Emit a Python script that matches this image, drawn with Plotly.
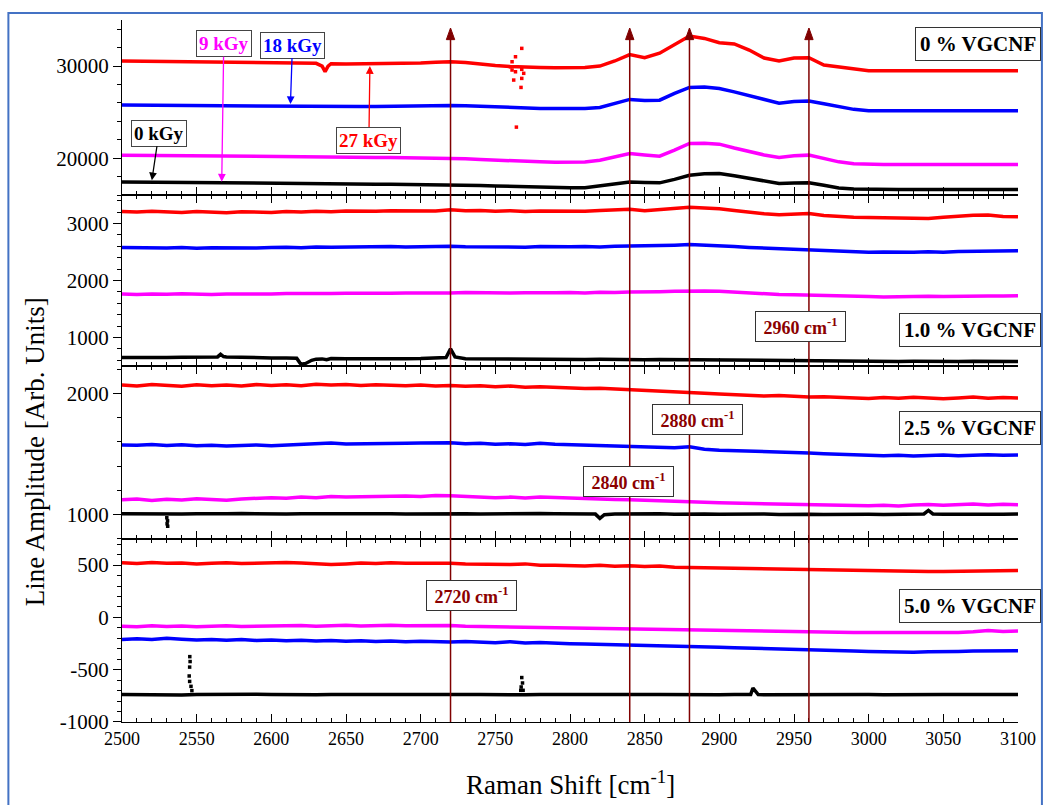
import plotly.graph_objects as go

# ---------------- data ----------------
raman_shift = list(range(2500, 3101, 10))
doses = ["0 kGy", "9 kGy", "18 kGy", "27 kGy"]
dose_colors = ["#000000", "#FF00FF", "#0000FF", "#FF0000"]
peak_positions = [2720, 2840, 2880, 2960]
panel_names = ["0 % VGCNF", "1.0 % VGCNF", "2.5 % VGCNF", "5.0 % VGCNF"]

# y tick labels per panel (top to bottom)
y_tick_vals = [[20000, 30000], [1000, 2000, 3000], [1000, 2000], [-1000, -500, 0, 500]]
y_tick_text = [["20000", "30000"], ["1000", "2000", "3000"], ["1000", "2000"], ["-1000", "-500", "0", "500"]]
x_tick_vals = [2500, 2550, 2600, 2650, 2700, 2750, 2800, 2850, 2900, 2950, 3000, 3050, 3100]

# Panel 1: 0 % VGCNF
p1_black = [17420, 17400, 17380, 17360, 17340, 17320, 17300, 17290, 17270, 17260,
            17250, 17240, 17230, 17220, 17210, 17200, 17190, 17180, 17170, 17160,
            17150, 17140, 17140, 17100, 17040, 16980, 16930, 16900, 16880, 16830,
            16780, 16800, 16990, 17200, 17420, 17360, 17320, 17700, 18150, 18300,
            18340, 18100, 17790, 17500, 17250, 17300, 17320, 17050, 16770, 16650,
            16600, 16600, 16590, 16600, 16600, 16590, 16620, 16600, 16590, 16600,
            16600]
p1_magenta = [20330, 20310, 20290, 20270, 20250, 20230, 20210, 20190, 20170, 20150,
              20140, 20130, 20120, 20110, 20100, 20090, 20080, 20080, 20080, 20060,
              20050, 20040, 20030, 19950, 19860, 19780, 19700, 19640, 19600, 19560,
              19530, 19580, 19780, 20150, 20510, 20350, 20220, 20870, 21600, 21620,
              21520, 21100, 20690, 20350, 20070, 20250, 20330, 19950, 19600, 19400,
              19310, 19300, 19300, 19310, 19300, 19300, 19310, 19300, 19300, 19310,
              19300]
p1_blue = [25760, 25750, 25740, 25730, 25720, 25700, 25680, 25660, 25640, 25610,
           25580, 25570, 25560, 25560, 25570, 25580, 25600, 25620, 25650, 25680,
           25710, 25730, 25730, 25690, 25620, 25550, 25480, 25430, 25400, 25390,
           25390, 25400, 25500, 25900, 26380, 26250, 26300, 27030, 27680, 27720,
           27570, 27200, 26770, 26350, 25970, 26150, 26200, 25900, 25580, 25300,
           25140, 25130, 25140, 25140, 25130, 25140, 25140, 25130, 25140, 25140,
           25140]
p1_red = [30540, 30520, 30500, 30490, 30470, 30450, 30430, 30410, 30400, 30380,
          30360, 30340, 30320, 30300, 30260, 30220, 30230, 30260, 30300, 30320,
          30330, 30400, 30470, 30380, 30200, 30050, 29950, 29850, 29840, 29820,
          29820, 29850, 30000, 30550, 31250, 30900, 31400, 32300, 33260, 33000,
          32530, 32400, 31740, 30870, 30540, 30870, 30900, 30110, 29930, 29670,
          29490, 29490, 29500, 29490, 29490, 29500, 29490, 29490, 29500, 29490,
          29490]
p1_red_dip_x = [2634, 2636, 2638]
p1_red_dip_y = [30000, 29400, 30000]
p1_red_dots_x = [2767.7, 2763.5, 2761.2, 2760.1, 2761.2, 2763.5, 2762.3, 2767.7, 2769.0, 2767.7, 2767.2, 2764.1]
p1_red_dots_y = [31920, 31010, 30470, 29920, 29570, 29380, 28480, 29640, 29210, 28660, 27680, 23370]

# Panel 2: 1.0 % VGCNF
p2_black = [648, 645, 650, 648, 652, 650, 652, 660, 650, 645,
            642, 640, 530, 620, 630, 628, 625, 630, 625, 628,
            630, 635, 800, 628, 625, 622, 625, 620, 622, 618,
            620, 615, 618, 612, 615, 610, 615, 612, 620, 615,
            612, 610, 605, 600, 598, 600, 598, 590, 588, 585,
            582, 585, 580, 583, 578, 582, 580, 585, 580, 582,
            580]
p2_black_feat_x = [2564, 2566, 2568, 2617, 2619, 2623, 2627, 2634, 2637, 2717, 2723]
p2_black_feat_y = [660, 705, 665, 635, 560, 545, 600, 625, 610, 650, 660]
p2_magenta = [1762, 1755, 1765, 1758, 1768, 1760, 1755, 1765, 1760, 1770,
              1765, 1772, 1768, 1775, 1770, 1778, 1772, 1780, 1775, 1782,
              1778, 1785, 1780, 1790, 1782, 1788, 1780, 1785, 1792, 1785,
              1790, 1782, 1795, 1788, 1800, 1795, 1805, 1812, 1820, 1815,
              1810, 1795, 1780, 1765, 1755, 1752, 1748, 1740, 1735, 1728,
              1718, 1712, 1720, 1715, 1722, 1718, 1725, 1720, 1730, 1728,
              1732]
p2_blue = [2580, 2575, 2585, 2570, 2578, 2565, 2575, 2570, 2580, 2572,
           2578, 2585, 2575, 2590, 2582, 2588, 2592, 2585, 2595, 2588,
           2595, 2590, 2600, 2592, 2588, 2580, 2590, 2585, 2595, 2588,
           2592, 2598, 2590, 2600, 2605, 2598, 2610, 2620, 2630, 2622,
           2610, 2595, 2580, 2570, 2560, 2548, 2535, 2520, 2515, 2505,
           2495, 2500, 2492, 2498, 2505, 2495, 2510, 2515, 2520, 2518,
           2522]
p2_red = [3210, 3200, 3215, 3205, 3195, 3210, 3200, 3190, 3205, 3200,
          3195, 3210, 3200, 3215, 3205, 3220, 3210, 3215, 3225, 3220,
          3230, 3220, 3240, 3225, 3230, 3215, 3225, 3210, 3220, 3215,
          3225, 3215, 3230, 3240, 3250, 3225, 3240, 3260, 3285, 3270,
          3260, 3230, 3195, 3170, 3155, 3165, 3175, 3140, 3120, 3110,
          3105, 3100, 3095, 3100, 3090, 3110, 3135, 3145, 3150, 3125,
          3120]

# Panel 3: 2.5 % VGCNF
p3_black = [1008, 1006, 1010, 1008, 1005, 1008, 1006, 1008, 1010, 1007,
            1008, 1005, 1008, 1010, 1006, 1008, 1007, 1010, 1008, 1006,
            1008, 1010, 1007, 1008, 1005, 1008, 1006, 1008, 1010, 1007,
            1005, 1008, 970, 1006, 1008, 1005, 1007, 1004, 1008, 1006,
            1004, 1006, 1003, 1005, 1002, 1006, 1004, 1002, 1005, 1003,
            1004, 1002, 1005, 1003, 1035, 1004, 1002, 1005, 1003, 1004,
            1005]
p3_black_feat_x = [2817, 2823, 3037, 3043]
p3_black_feat_y = [1005, 1000, 1006, 1006]
p3_black_dots_x = [2530.0, 2530.5, 2530.2, 2530.6]
p3_black_dots_y = [975, 950, 925, 905]
p3_magenta = [1123, 1130, 1118, 1128, 1122, 1132, 1125, 1120, 1130, 1135,
              1140, 1135, 1145, 1140, 1150, 1145, 1148, 1152, 1150, 1155,
              1150, 1158, 1156, 1150, 1145, 1140, 1145, 1138, 1145, 1140,
              1135, 1130, 1128, 1125, 1123, 1118, 1112, 1108, 1100, 1102,
              1098, 1095, 1092, 1088, 1085, 1082, 1080, 1078, 1075, 1072,
              1074, 1078, 1072, 1080, 1085, 1078, 1082, 1088, 1080, 1086,
              1082]
p3_blue = [1575, 1572, 1578, 1570, 1576, 1568, 1572, 1566, 1570, 1574,
           1568, 1575, 1580, 1585, 1590, 1582, 1585, 1588, 1592, 1588,
           1590, 1594, 1592, 1585, 1588, 1580, 1584, 1578, 1588, 1580,
           1576, 1570, 1572, 1566, 1560, 1558, 1555, 1552, 1560, 1540,
           1532, 1528, 1530, 1522, 1518, 1512, 1508, 1502, 1498, 1492,
           1488, 1485, 1490, 1484, 1488, 1492, 1486, 1490, 1494, 1490,
           1492]
p3_red = [2068, 2060, 2072, 2065, 2058, 2070, 2062, 2068, 2060, 2072,
          2065, 2070, 2062, 2075, 2068, 2072, 2065, 2070, 2068, 2062,
          2068, 2060, 2065, 2058, 2062, 2055, 2060, 2050, 2055, 2048,
          2045, 2040, 2042, 2035, 2030, 2022, 2018, 2010, 2005, 2000,
          1995, 1988, 1985, 1978, 1982, 1975, 1970, 1972, 1968, 1962,
          1958, 1965, 1960, 1968, 1962, 1955, 1962, 1970, 1960, 1965,
          1962]

# Panel 4: 5.0 % VGCNF
p4_black = [-738, -740, -736, -738, -742, -738, -736, -740, -738, -735,
            -738, -740, -737, -739, -736, -738, -740, -737, -738, -736,
            -738, -740, -737, -738, -736, -739, -738, -740, -737, -738,
            -736, -739, -738, -737, -740, -738, -736, -739, -738, -737,
            -740, -738, -736, -739, -738, -740, -737, -739, -738, -736,
            -738, -740, -737, -738, -739, -736, -738, -740, -737, -738,
            -738]
p4_black_feat_x = [2921, 2922.5, 2924, 2926]
p4_black_feat_y = [-738, -675, -700, -738]
p4_black_dots_x = [2545.4, 2545.6, 2545.3, 2545.0, 2545.3, 2546.2, 2546.8, 2767.7, 2768.2, 2767.3, 2767.0, 2768.6]
p4_black_dots_y = [-375, -422, -475, -560, -612, -659, -700, -575, -627, -665, -697, -697]
p4_magenta = [-84, -88, -80, -86, -82, -90, -85, -80, -86, -82,
              -85, -80, -78, -84, -80, -76, -82, -78, -75, -80,
              -78, -82, -78, -84, -86, -88, -92, -95, -98, -100,
              -103, -106, -105, -108, -110, -108, -112, -115, -118, -120,
              -122, -125, -128, -130, -132, -135, -138, -140, -142, -145,
              -145, -148, -150, -152, -148, -150, -145, -138, -125, -135,
              -130]
p4_blue = [-210, -205, -212, -200, -208, -215, -210, -218, -212, -220,
           -215, -222, -218, -225, -220, -228, -222, -230, -225, -232,
           -228, -235, -236, -230, -238, -242, -232, -245, -240, -248,
           -252, -255, -258, -260, -265, -262, -268, -272, -275, -280,
           -285, -290, -295, -300, -305, -310, -312, -315, -318, -322,
           -325, -328, -330, -332, -328, -330, -325, -322, -320, -322,
           -318]
p4_red = [522, 515, 525, 518, 520, 512, 518, 522, 515, 520,
          518, 525, 520, 515, 505, 512, 520, 515, 522, 518,
          520, 515, 518, 512, 510, 508, 505, 512, 500, 498,
          495, 492, 498, 490, 495, 488, 492, 480, 478, 475,
          472, 470, 468, 465, 462, 458, 455, 452, 450, 445,
          442, 440, 436, 435, 438, 440, 442, 445, 448, 445,
          448]


def merged(xs, ys, fx=(), fy=()):
    pairs = sorted(zip(list(xs) + list(fx), list(ys) + list(fy)))
    return [p[0] for p in pairs], [p[1] for p in pairs]


# (values, line-features x, line-features y) in draw order black, magenta, blue, red
panels = [
    [(p1_black, (), ()), (p1_magenta, (), ()), (p1_blue, (), ()), (p1_red, p1_red_dip_x, p1_red_dip_y)],
    [(p2_black, p2_black_feat_x, p2_black_feat_y), (p2_magenta, (), ()), (p2_blue, (), ()), (p2_red, (), ())],
    [(p3_black, p3_black_feat_x, p3_black_feat_y), (p3_magenta, (), ()), (p3_blue, (), ()), (p3_red, (), ())],
    [(p4_black, p4_black_feat_x, p4_black_feat_y), (p4_magenta, (), ()), (p4_blue, (), ()), (p4_red, (), ())],
]
order_colors = ["#000000", "#FF00FF", "#0000FF", "#FF0000"]
dot_sets = [("", p1_red_dots_x, p1_red_dots_y, "#FF0000"),
            ("3", p3_black_dots_x, p3_black_dots_y, "#000000"),
            ("4", p4_black_dots_x, p4_black_dots_y, "#000000")]

fig = go.Figure()
for k, panel in enumerate(panels):
    s = "" if k == 0 else str(k + 1)
    for (vals, fx, fy), col in zip(panel, order_colors):
        xx, yy = merged(raman_shift, vals, fx, fy)
        fig.add_trace(go.Scatter(x=xx, y=yy, mode="lines",
                                 line=dict(color=col, width=3.5),
                                 xaxis="x" + s, yaxis="y" + s,
                                 showlegend=False, hoverinfo="skip"))
for s, dx, dy, col in dot_sets:
    fig.add_trace(go.Scatter(x=dx, y=dy, mode="markers",
                             marker=dict(color=col, size=3.5, symbol="square"),
                             xaxis="x" + s, yaxis="y" + s, showlegend=False, hoverinfo="skip"))

FONT = "Liberation Serif"
domains = [[0.7507, 1.0], [0.5071, 0.7507], [0.2607, 0.5071], [0.0, 0.2607]]
yranges = [[16000, 35000], [500, 3500], [800, 2225], [-1000, 750]]
yminor = [2000, 200, 200, 100]

layout = dict(
    width=1048, height=805,
    margin=dict(l=122, r=27, t=20, b=83),
    paper_bgcolor="white", plot_bgcolor="white",
    font=dict(family=FONT, color="black"),
    showlegend=False,
)
for k in range(4):
    s = "" if k == 0 else str(k + 1)
    layout["xaxis" + s] = dict(
        range=[2500, 3100], anchor="y" + s, domain=[0, 1],
        showline=True, linecolor="black", linewidth=1.3,
        ticks="inside", ticklen=8, tickwidth=1.2, tickcolor="black",
        tickmode="array", tickvals=x_tick_vals, ticktext=[str(v) for v in x_tick_vals],
        minor=dict(dtick=10, tick0=2500, ticks="inside", ticklen=4, tickcolor="black", tickwidth=1),
        mirror=False if k == 0 else "ticks",
        showgrid=False, zeroline=False,
        showticklabels=(k == 3),
        tickfont=dict(family=FONT, size=18, color="black"),
    )
    layout["yaxis" + s] = dict(
        range=yranges[k], domain=domains[k], anchor="x" + s,
        showline=True, linecolor="black", linewidth=1.3,
        ticks="outside", ticklen=8, tickwidth=1.2, tickcolor="black",
        tickmode="array", tickvals=y_tick_vals[k], ticktext=y_tick_text[k],
        minor=dict(dtick=yminor[k], tick0=0, ticks="outside", ticklen=4, tickcolor="black", tickwidth=1),
        showgrid=False, zeroline=False,
        tickfont=dict(family=FONT, size=21, color="black"),
    )
fig.update_layout(**layout)

# vertical peak lines with arrowheads (shapes)
shapes = []
for px in peak_positions:
    shapes.append(dict(type="line", xref="x4", yref="paper", x0=px, x1=px, y0=0, y1=0.978,
                       line=dict(color="#800000", width=1.5), layer="above"))
    shapes.append(dict(type="path", xref="x4", yref="paper",
                       path="M %g,0.972 L %g,0.972 L %g,0.9886 Z" % (px - 2.8, px + 2.8, px),
                       fillcolor="#800000", line=dict(color="#800000", width=1), layer="above"))
# outer blue frame
shapes.append(dict(type="rect", xref="paper", yref="paper",
                   x0=-0.1268, x1=1.0267, y0=-0.14, y1=1.01,
                   line=dict(color="#4472C4", width=2), fillcolor="rgba(0,0,0,0)", layer="below"))

annotations = []
# peak labels
peak_label_pos = [(0.3904, 0.1795), (0.5651, 0.3419), (0.6418, 0.4302), (0.7575, 0.5627)]
for px, (lx, ly) in zip(peak_positions, peak_label_pos):
    annotations.append(dict(x=lx, y=ly, xref="paper", yref="paper", xanchor="center", yanchor="middle",
                            text="<b>&nbsp;%d cm<sup>-1</sup>&nbsp;</b>" % px, showarrow=False,
                            font=dict(family=FONT, size=18, color="#8B0000"),
                            bgcolor="white", bordercolor="#333333", borderwidth=1, borderpad=3))

# panel labels
panel_label_y = [0.9658, 0.5584, 0.4188, 0.1652]
for name, ly in zip(panel_names, panel_label_y):
    annotations.append(dict(x=1.0256, y=ly, xref="paper", yref="paper", xanchor="right", yanchor="middle",
                            text="<b>%s</b>" % name, showarrow=False,
                            font=dict(family=FONT, size=21, color="black"),
                            bgcolor="white", bordercolor="#333333", borderwidth=1, borderpad=4))

# dose labels with arrows in panel 1
dose_tips = [(2520, 17600, 7, -47), (2566.8, 17450, 2, -138), (2612.8, 25870, 2, -59), (2666, 30000, -1, 74)]
for name, col, (tx, ty, dax, day) in zip(doses, dose_colors, dose_tips):
    annotations.append(dict(x=tx, y=ty, xref="x", yref="y", text="<b>%s</b>" % name,
                            showarrow=True, ax=dax, ay=day, arrowhead=2, arrowsize=1.2,
                            arrowwidth=1.3, arrowcolor=col,
                            font=dict(family=FONT, size=19, color=col),
                            bgcolor="white", bordercolor="#444444", borderwidth=1, borderpad=2))

# axis titles
annotations.append(dict(x=0.5, y=-0.087, xref="paper", yref="paper", xanchor="center", yanchor="middle",
                        text="Raman Shift [cm<sup>-1</sup>]", showarrow=False,
                        font=dict(family=FONT, size=27, color="black")))
annotations.append(dict(x=-0.0968, y=0.3846, xref="paper", yref="paper", xanchor="center", yanchor="middle",
                        text="Line Amplitude [Arb. Units]", textangle=-90, showarrow=False,
                        font=dict(family=FONT, size=27, color="black")))

fig.update_layout(annotations=annotations, shapes=shapes)

fig.write_html("out.html")
